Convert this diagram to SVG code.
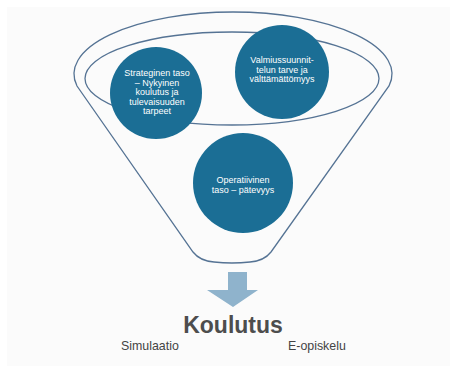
<svg xmlns="http://www.w3.org/2000/svg" width="450" height="366" viewBox="0 0 450 366">
<style>
.line{fill:none;stroke:#557394;stroke-width:1.3}
.circ{fill:#1b6e95}
.ct{fill:#ffffff;font-family:"Liberation Sans",Arial,sans-serif;font-size:9px;text-anchor:middle}
.lbl{fill:#444444;font-family:"Liberation Sans",Arial,sans-serif;font-size:12.4px}
</style>
<rect x="0" y="0" width="450" height="366" fill="#ffffff"/>
<rect x="7" y="7" width="443" height="359" fill="#fbfbfb"/>
<g id="funnel">
<path class="line" d="M 77,86 A 159 62 0 1 1 389,86 L 271,252 Q 264,261 250,262 Q 232,264 214,262 Q 200,261 193,252 Z"/>
<ellipse class="line" cx="232" cy="78.5" rx="147" ry="46.5"/>
</g>
<g id="connectors">
<path d="M228,272 H247 V290 H258 L233,307 L207,290 H228 Z" fill="#8fb3cc"/>
</g>
<g id="strateginen">
<circle class="circ" cx="156" cy="93" r="46"/>
<text class="ct" x="157" y="76">Strateginen taso</text>
<text class="ct" x="157" y="85.5">– Nykyinen</text>
<text class="ct" x="157" y="95">koulutus ja</text>
<text class="ct" x="157" y="104.5">tulevaisuuden</text>
<text class="ct" x="157" y="114">tarpeet</text>
</g>
<g id="valmius">
<circle class="circ" cx="282" cy="72" r="47"/>
<text class="ct" x="282" y="62.5">Valmiussuunnit-</text>
<text class="ct" x="282" y="72.5">telun tarve ja</text>
<text class="ct" x="282" y="82">välttämättömyys</text>
</g>
<g id="operatiivinen">
<circle class="circ" cx="243" cy="183" r="50"/>
<text class="ct" x="243" y="182.5">Operatiivinen</text>
<text class="ct" x="243" y="193">taso – pätevyys</text>
</g>
<g id="koulutus">
<text x="233" y="333" fill="#4d4d4d" font-family="'Liberation Sans',Arial,sans-serif" font-size="23" font-weight="bold" text-anchor="middle">Koulutus</text>
</g>
<g id="simulaatio"><text class="lbl" x="121" y="350">Simulaatio</text></g>
<g id="eopiskelu"><text class="lbl" x="288" y="350">E-opiskelu</text></g>
</svg>
